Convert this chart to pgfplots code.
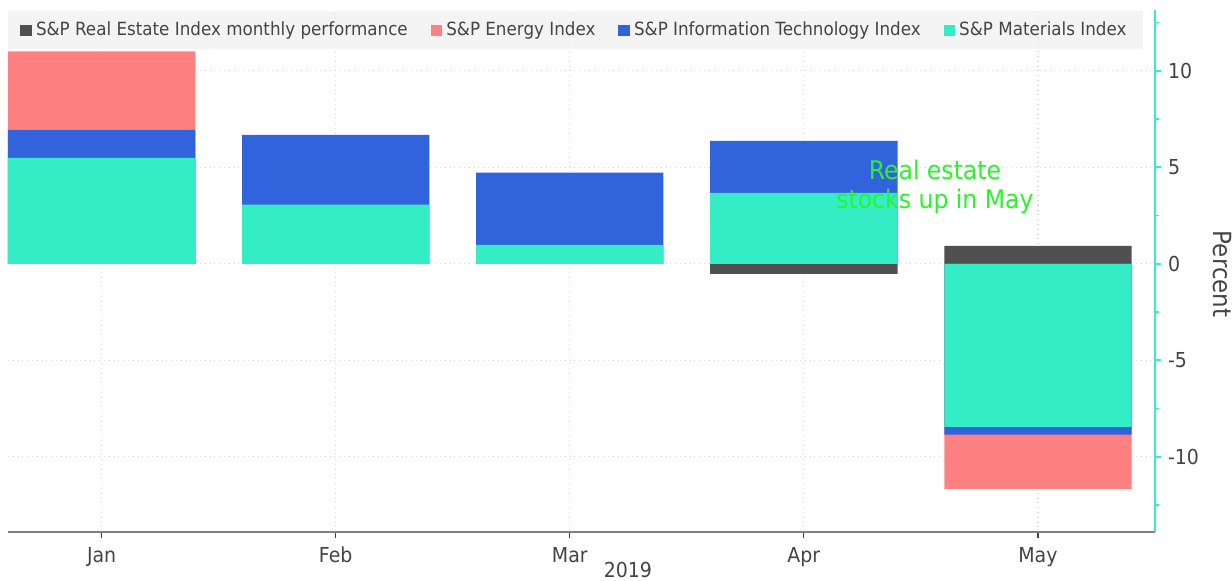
\documentclass[border=0pt]{standalone}
\usepackage{pgfplots}
\pgfplotsset{compat=1.18}
\usepackage{fontspec}
\setmainfont{DejaVu Sans}[FakeStretch=0.92]
\definecolor{realest}{HTML}{505050}
\definecolor{energy}{HTML}{FF8080}
\definecolor{infotech}{HTML}{3063DC}
\definecolor{materials}{HTML}{34EDC5}
\definecolor{txt}{HTML}{444444}
\definecolor{note}{HTML}{2CF22C}
\definecolor{gridc}{HTML}{D8D8D8}

\begin{document}
\begin{tikzpicture}
\begin{axis}[
    scale only axis,
    width=573.5pt, height=261pt,
    xmin=-0.4, xmax=4.5,
    ymin=-13.9, ymax=13.15,
    ybar, bar width=0.8, bar shift=0pt,
    axis x line*=bottom, axis y line*=right,
    x axis line style={draw=gray, line width=1.2pt, -},
    y axis line style={draw=materials, line width=0.9pt, -},
    xtick={0,1,2,3,4},
    xticklabels={Jan,Feb,Mar,Apr,May},
    ytick={-10,-5,0,5,10},
    yticklabels={-10,-5,0,5,10},
    minor ytick={-12.5,-7.5,-2.5,2.5,7.5,12.5},
    tick align=outside,
    x tick style={draw=txt, line width=0.6pt},
    y tick style={draw=materials, line width=0.9pt},
    major tick length=3pt, minor tick length=2pt,
    tick label style={font=\fontsize{10.3}{12}\selectfont, text=txt},
    yticklabel style={anchor=west, xshift=0pt},
    xticklabel style={yshift=-1pt},
    xmajorgrids, ymajorgrids,
    grid style={draw=gridc, dotted, line width=0.6pt},
    xlabel={2019},
    every axis x label/.style={at={(axis description cs:0.5405,-0.0728)}, anchor=center,
        font=\fontsize{10.3}{12}\selectfont, text=txt},
    ylabel={Percent},
    every axis y label/.style={at={(axis description cs:1.0584,0.494)}, anchor=center,
        rotate=-90, font=\fontsize{12.5}{14}\selectfont, text=txt},
    legend columns=4,
    legend style={at={(axis description cs:0,0.998)}, anchor=north west,
        fill=black!6, fill opacity=0.7, text opacity=1, draw=none,
        font=\fontsize{9.1}{11}\selectfont, text=txt,
        inner xsep=6pt, inner ysep=3.3pt,
        /tikz/every even column/.append style={column sep=9.5pt}},
    legend image code/.code={\fill[#1, fill opacity=1] (0pt,-2.8pt) rectangle (5.8pt,2.8pt);},
    legend cell align=left,
]
\addplot[fill=realest, draw=none] coordinates {(0,0) (1,0) (2,0) (3,-0.52) (4,0.93)};
\addplot[fill=energy, draw=none] coordinates {(0,11.0) (1,0) (2,0) (3,0) (4,-11.66)};
\addplot[fill=infotech, draw=none] coordinates {(0,6.94) (1,6.68) (2,4.72) (3,6.37) (4,-8.86)};
\addplot[fill=materials, draw=none] coordinates {(0,5.49) (1,3.06) (2,0.98) (3,3.68) (4,-8.45)};
\legend{S\&P Real Estate Index monthly performance, S\&P Energy Index,
        S\&P Information Technology Index, S\&P Materials Index}
\node[text=note, align=center, font=\fontsize{12.8}{14.5}\selectfont]
    at (axis cs:3.56,4.0) {Real estate\\stocks up in May};
\end{axis}
\pgfresetboundingbox
\path[use as bounding box] (-4pt,-24pt) rectangle (612pt,266pt);
\end{tikzpicture}
\end{document}
